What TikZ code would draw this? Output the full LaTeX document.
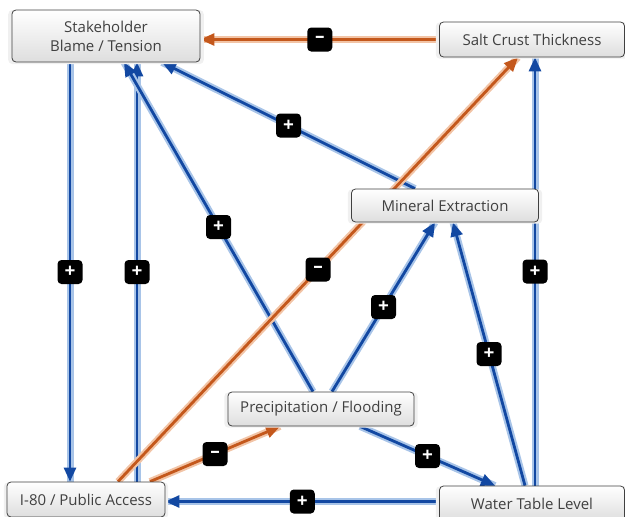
\documentclass[tikz,border=0pt]{standalone}
\usepackage{fontspec}
\setmainfont{Open Sans}
\usepackage{xcolor}
\usepackage{tikz}
\usetikzlibrary{arrows.meta,shadows,backgrounds}
\definecolor{linkblue}{RGB}{18,72,162}
\definecolor{haloblue}{RGB}{168,196,232}
\definecolor{linkorange}{RGB}{196,88,28}
\definecolor{haloorange}{RGB}{242,196,166}
\definecolor{boxtext}{RGB}{64,64,64}

\begin{document}
\begin{tikzpicture}[x=1pt,y=-1pt,
    factor/.style={draw=black!75,line width=0.8pt,rounded corners=4pt,
        top color=white,bottom color=black!13,text=boxtext,
        font=\fontsize{15}{19}\selectfont,align=center,inner sep=2pt,
        copy shadow={draw=none,fill=black!6,shadow xshift=0pt,shadow yshift=-1pt,shadow scale=1.04}},
    plus/.style={draw=linkblue,line width=2.8pt,-{Triangle[length=14pt,width=12pt]},
        preaction={draw=haloblue,line width=7pt,-}},
    minus/.style={draw=linkorange,line width=2.8pt,-{Triangle[length=14pt,width=12pt]},
        preaction={draw=haloorange,line width=7pt,-}},
    sign/.style={fill=black,rounded corners=4pt,minimum width=25pt,minimum height=24pt,inner sep=0pt,
        text=white,font=\bfseries\fontsize{19}{19}\selectfont}]
    \useasboundingbox (0,0) rectangle (625,517);
    \clip (0,0) rectangle (625,517);

    % the factors
    \node[factor,minimum width=188pt,minimum height=52pt] (stake) at (106,36) {Stakeholder\\Blame / Tension};
    \node[factor,minimum width=185pt,minimum height=35pt] (salt) at (532,39.5) {Salt Crust Thickness};
    \node[factor,minimum width=187pt,minimum height=33pt] (mineral) at (445,205.5) {Mineral Extraction};
    \node[factor,minimum width=186pt,minimum height=34pt] (precip) at (321,409) {Precipitation / Flooding};
    \node[factor,minimum width=158pt,minimum height=35pt] (road) at (86,499.5) {I-80 / Public Access};
    \node[factor,minimum width=185pt,minimum height=35pt] (water) at (532,503.5) {Water Table Level};

    % links
    \begin{pgfonlayer}{background}
    \draw[minus] (salt.west) -- node[sign]{--} (salt.west -| stake.east);
    \draw[plus] ([xshift=-36pt]stake.south) -- node[sign]{+} ([xshift=-36pt]stake.south |- road.north);
    \draw[plus] ([xshift=51pt]road.north) -- node[sign]{+} ([xshift=51pt]road.north |- stake.south);
    \draw[plus] ([xshift=-8pt]precip.north) -- node[sign]{+} ([xshift=18pt]stake.south);
    \draw[plus] ([xshift=-30pt]mineral.north) -- node[sign]{+} ([xshift=56pt]stake.south);
    \draw[minus] ([xshift=32pt]road.north) -- node[sign]{--} ([xshift=-14pt]salt.south);
    \draw[minus] ([xshift=64pt]road.north) -- node[sign]{--} ([xshift=-41pt]precip.south);
    \draw[plus] ([xshift=39pt]precip.south) -- node[sign]{+} ([xshift=-37pt]water.north);
    \draw[plus] ([yshift=2pt]water.west) -- node[sign]{+} ([yshift=2pt]water.west -| road.east);
    \draw[plus] ([xshift=11pt]precip.north) -- node[sign]{+} ([xshift=-10pt]mineral.south);
    \draw[plus] ([xshift=-7pt]water.north) -- node[sign]{+} ([xshift=8pt]mineral.south);
    \draw[plus] ([xshift=3pt]water.north) -- node[sign]{+} ([xshift=3pt]salt.south);
    \end{pgfonlayer}
\end{tikzpicture}
\end{document}
